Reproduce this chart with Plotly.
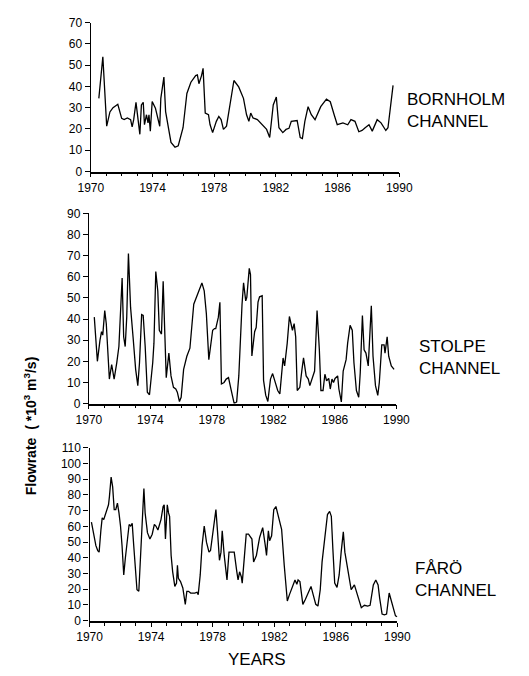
import plotly.graph_objects as go

# ---------------- data ----------------
bornholm_years = [1970.52, 1970.78, 1971.03, 1971.24, 1971.44, 1971.75, 1972.0, 1972.16, 1972.37, 1972.58,
                  1972.68, 1972.78, 1972.93, 1973.05, 1973.18, 1973.28, 1973.40, 1973.48, 1973.61, 1973.71,
                  1973.77, 1973.86, 1973.98, 1974.19, 1974.33, 1974.47, 1974.54, 1974.74, 1974.85, 1975.05,
                  1975.2, 1975.46, 1975.67, 1975.98, 1976.23, 1976.49, 1976.80, 1976.91, 1977.01, 1977.18,
                  1977.28, 1977.42, 1977.63, 1977.73, 1977.9, 1978.14, 1978.3, 1978.45, 1978.6, 1978.8,
                  1979.03, 1979.28, 1979.59, 1979.9, 1980.1, 1980.25, 1980.37, 1980.52, 1980.8, 1981.4,
                  1981.6, 1981.83, 1982.03, 1982.2, 1982.45, 1982.66, 1982.85, 1983.0, 1983.38, 1983.58,
                  1983.72, 1983.88, 1984.09, 1984.3, 1984.54, 1984.91, 1985.28, 1985.53, 1985.78, 1985.98,
                  1986.35, 1986.66, 1986.87, 1987.13, 1987.38, 1987.59, 1987.79, 1988.04, 1988.25, 1988.57,
                  1988.82, 1989.13, 1989.27, 1989.6]
bornholm_flow = [34.4, 54, 21.3, 28, 30, 31.6, 25, 24.4, 25.2, 24.4,
                 21, 24.4, 32.5, 24.4, 17.5, 31.3, 32.5, 22, 26.7, 22.9,
                 26.7, 19, 32.9, 29.8, 25.2, 21.3, 34.4, 44.4, 28.2, 19,
                 13.7, 11.4, 12.1, 20.6, 36.7, 42, 45.1, 45.4, 41.3, 45.1,
                 48.5, 27.5, 26.7, 22.1, 18.3, 23.6, 25.9, 24.4, 19.8, 21.3,
                 31.3, 42.8, 39.8, 34.4, 26.7, 23.6, 27.5, 25.2, 24.4, 19.8,
                 16, 31.3, 35, 20.6, 18.3, 19.8, 20.3, 23.6, 24, 16,
                 15.5, 23.6, 30.5, 26.7, 24.4, 30.5, 34, 32.8, 26.7, 22,
                 22.9, 22, 24.4, 23.6, 18.7, 19.3, 20.6, 22, 19, 24.4,
                 22.9, 19.3, 20.6, 40.5]

stolpe_years = [1970.35, 1970.55, 1970.72, 1970.82, 1970.9,
                1971.03, 1971.13, 1971.33, 1971.48, 1971.64, 1971.81, 1971.95,
                1972.16, 1972.26, 1972.36, 1972.46, 1972.57, 1972.71, 1972.87,
                1973.04, 1973.18, 1973.29, 1973.43, 1973.53, 1973.66, 1973.8, 1973.94,
                1974.15, 1974.23, 1974.35, 1974.48, 1974.58, 1974.72, 1974.83, 1974.93,
                1975.03, 1975.2, 1975.34, 1975.5, 1975.65, 1975.75, 1975.89,
                1976.0, 1976.16, 1976.37, 1976.47, 1976.57, 1976.82,
                1977.02, 1977.19, 1977.35, 1977.5, 1977.64, 1977.8, 1977.9,
                1978.05, 1978.17, 1978.25, 1978.42, 1978.52, 1978.62, 1978.79, 1978.93,
                1979.08, 1979.24, 1979.45, 1979.61, 1979.75, 1979.96,
                1980.06, 1980.2, 1980.27, 1980.43, 1980.51, 1980.6, 1980.7, 1980.78, 1980.88,
                1981.0, 1981.1, 1981.27, 1981.36, 1981.5, 1981.64, 1981.81, 1981.95,
                1982.11, 1982.28, 1982.42, 1982.53, 1982.63, 1982.73, 1982.9,
                1983.04, 1983.14, 1983.24, 1983.35, 1983.45, 1983.55, 1983.72, 1983.86, 1983.96,
                1984.13, 1984.27, 1984.37, 1984.58, 1984.68, 1984.84, 1984.99,
                1985.09, 1985.23, 1985.35, 1985.46, 1985.6, 1985.7, 1985.81, 1985.91,
                1986.01, 1986.18, 1986.26, 1986.42, 1986.54, 1986.73, 1986.83, 1986.99,
                1987.13, 1987.24, 1987.4, 1987.55, 1987.65, 1987.79, 1987.9,
                1988.02, 1988.17, 1988.27, 1988.37, 1988.48, 1988.64, 1988.79, 1988.89,
                1989.05, 1989.2, 1989.26, 1989.4, 1989.5, 1989.67, 1989.85]
stolpe_flow = [40.9, 20, 30, 34, 32.4,
               44, 37.8, 11.6, 18.5, 11.6, 19.3, 27,
               59.4, 31.6, 27, 40.9, 71, 45.5, 31.6,
               16.2, 8.5, 19.3, 42.1, 41.7, 27, 5.4, 4.2,
               19.3, 28.6, 62.5, 53.3, 34.7, 32.9, 57.9, 34.7,
               12.3, 23.9, 13.1, 7.7, 6.9, 5.4, 1,
               3, 16.2, 22.4, 24.7, 26.2, 47,
               50.5, 54, 57.1, 53.3, 42.5, 20.8, 25.5,
               34.7, 35.5, 35.5, 40.9, 47.9, 9.3, 10, 11.6,
               12.3, 6.9, 0, 0.8, 13.1, 47,
               57.1, 48.6, 50.2, 64, 61, 22.5, 30, 34, 36,
               48, 50.5, 51, 11, 4, 1, 11.6, 14.2,
               10, 6.2, 4.6, 16.2, 21.6, 17.8, 28.6,
               41.2, 38.6, 34.7, 37.8, 31.6, 6.2, 7.7, 16.2, 21.6,
               13.1, 11.6, 8.5, 13.1, 15.4, 44, 25.5,
               6.2, 6.2, 13.9, 10.8, 11.9, 6.9, 11.6, 10,
               11.9, 13.1, 6.9, 0.8, 15.4, 20.8, 28.6, 37,
               34.7, 19.3, 6.2, 3, 14.7, 41.7, 25.5,
               23.9, 17.8, 34.7, 46.3, 22.4, 8.5, 3.9, 10,
               27.8, 27.8, 23.9, 31.6, 22.4, 17.8, 16.2]

faro_years = [1970.12, 1970.27, 1970.41, 1970.53, 1970.62, 1970.74, 1970.82, 1970.92, 1970.99,
              1971.09, 1971.23, 1971.29, 1971.4, 1971.5, 1971.6, 1971.7, 1971.81, 1971.91,
              1972.01, 1972.11, 1972.22, 1972.32, 1972.46, 1972.57, 1972.67, 1972.77, 1972.87,
              1973.0, 1973.08, 1973.2, 1973.31, 1973.41, 1973.53, 1973.61, 1973.76, 1973.92,
              1974.07, 1974.21, 1974.31, 1974.44, 1974.52, 1974.64, 1974.78, 1974.85, 1974.93,
              1975.05, 1975.13, 1975.2, 1975.3, 1975.4, 1975.54, 1975.65, 1975.71, 1975.77, 1975.91,
              1976.06, 1976.22, 1976.32, 1976.43, 1976.57, 1976.84, 1976.98,
              1977.06, 1977.19, 1977.31, 1977.45, 1977.6, 1977.76, 1977.86,
              1978.01, 1978.21, 1978.32, 1978.44, 1978.54, 1978.62, 1978.75, 1978.93,
              1979.06, 1979.2, 1979.4, 1979.57, 1979.65, 1979.75, 1979.86, 1979.92,
              1980.06, 1980.18, 1980.33, 1980.47, 1980.55, 1980.66, 1980.84,
              1981.05, 1981.25, 1981.42, 1981.5, 1981.62, 1981.7, 1981.83, 1981.97,
              1982.11, 1982.28, 1982.48, 1982.65, 1982.85, 1982.99,
              1983.2, 1983.35, 1983.47, 1983.55, 1983.67, 1983.86,
              1984.02, 1984.18, 1984.39, 1984.53, 1984.7, 1984.84, 1984.99,
              1985.11, 1985.32, 1985.46, 1985.6, 1985.71, 1985.81, 1985.93,
              1986.08, 1986.22, 1986.35, 1986.49, 1986.59, 1986.76, 1986.9,
              1987.0, 1987.21, 1987.41, 1987.66, 1987.86,
              1988.07, 1988.23, 1988.44, 1988.6, 1988.75, 1988.85,
              1989.01, 1989.16, 1989.3, 1989.47, 1989.63, 1989.71, 1989.88, 1990.0]
faro_flow = [62.7, 55, 47.7, 44.6, 43.6, 58.1, 65.4, 64.3, 66.4,
             70.6, 73.7, 78.9, 91.3, 85.1, 70.6, 70.6, 74.7, 68.5,
             60.2, 47.7, 29.1, 39.4, 52.9, 61.2, 60.2, 61.9, 47.7,
             27, 19.7, 18.7, 39.4, 66.4, 84.1, 68.5, 56, 51.9,
             55, 61.2, 60.2, 57.7, 60.2, 64.3, 72.6, 73.7, 51.9,
             73.7, 68.5, 66.4, 41.5, 31.1, 21.8, 23.9, 35.3, 27, 24.9,
             20.8, 10.4, 18.7, 18.7, 17.6, 17.6, 18.1,
             16.6, 29.1, 47.7, 60.2, 49.8, 43.6, 44.6,
             56, 70.6, 56, 38.4, 43.6, 57.1, 41.5, 25.9,
             43.6, 43.6, 43.6, 31.1, 25.9, 31.1, 28, 23.9,
             39.4, 55, 55, 52.9, 51.9, 37.4, 41.5,
             52.9, 59.2, 47.7, 41.5, 57.1, 50.9, 54, 70.6,
             72.6, 65.4, 58.1, 35.3, 12.5, 16.6,
             22.8, 25.9, 23.2, 25.9, 24.9, 10.4,
             13.5, 17.6, 21.8, 16.6, 10.4, 9.3, 19.7,
             37.4, 54, 67.5, 69.5, 66.4, 45.7, 23.9,
             21.2, 29.1, 43.6, 56.5, 43.6, 33.2, 24.9,
             19.7, 22.8, 16.6, 8.3, 9.8,
             9.3, 9.8, 22.8, 25.9, 22.8, 14.5,
             4.2, 3.7, 4.2, 17.6, 11.4, 8.3, 3.1, 2.5]

channel_names = ["BORNHOLM<br>CHANNEL", "STOLPE<br>CHANNEL", "FÅRÖ<br>CHANNEL"]
y_max = [70, 90, 110]
x_ticks = [1970, 1974, 1978, 1982, 1986, 1990]

# ---------------- layout helpers (pixel geometry) ----------------
W, H = 529, 676
def px_x(p):
    return p / W
def px_y(p):
    return 1 - p / H

panels = [
    dict(x0=82, x1=407, ybot=168, ytop=16, lab_x=413, lab_y=106),
    dict(x0=80, x1=404, ybot=405, ytop=210.7, lab_x=426, lab_y=358),
    dict(x0=80.7, x1=405, ybot=626.7, ytop=450, lab_x=421, lab_y=585),
]
series = [(bornholm_years, bornholm_flow), (stolpe_years, stolpe_flow), (faro_years, faro_flow)]

fig = go.Figure()
tick_font = dict(family="Liberation Sans, Arial, sans-serif", size=12, color="black")
annotations = []
for i, (p, (xs, ys)) in enumerate(zip(panels, series)):
    n = "" if i == 0 else str(i + 1)
    fig.add_trace(go.Scatter(x=xs, y=ys, mode="lines",
                             line=dict(color="black", width=1.3),
                             xaxis="x" + n, yaxis="y" + n, showlegend=False))
    fig.layout["xaxis" + n] = dict(
        domain=[px_x(p["x0"]), px_x(p["x1"])], range=[1970, 1990],
        anchor="y" + n, tickvals=x_ticks, ticks="outside", ticklen=4, tickwidth=1.2,
        tickcolor="black", showline=True, linecolor="black", linewidth=1.6,
        showgrid=False, zeroline=False, tickfont=tick_font,
        minor=dict(dtick=1, tick0=1970, ticks="outside", ticklen=3, tickwidth=1, tickcolor="black",
                   showgrid=False))
    fig.layout["yaxis" + n] = dict(
        domain=[px_y(p["ybot"]), px_y(p["ytop"])], range=[0, y_max[i]],
        anchor="x" + n, dtick=10, ticks="outside", ticklen=5, tickwidth=1.2,
        tickcolor="black", showline=True, linecolor="black", linewidth=1.4,
        showgrid=False, zeroline=False, tickfont=tick_font)
    annotations.append(dict(text=channel_names[i], xref="paper", yref="paper",
                            x=px_x(p["lab_x"]), y=px_y(p["lab_y"]), xanchor="left", yanchor="middle",
                            align="left", showarrow=False,
                            font=dict(family="Liberation Sans, Arial, sans-serif", size=17, color="black")))

annotations.append(dict(text="<b>Flowrate  ( *10<sup>3</sup> m<sup>3</sup>/s)</b>", xref="paper", yref="paper",
                        x=px_x(18), y=px_y(428), xanchor="center", yanchor="middle", textangle=-90,
                        showarrow=False,
                        font=dict(family="Liberation Sans, Arial, sans-serif", size=14, color="black")))
annotations.append(dict(text="YEARS", xref="paper", yref="paper",
                        x=px_x(257), y=px_y(666), xanchor="center", yanchor="middle",
                        showarrow=False,
                        font=dict(family="Liberation Sans, Arial, sans-serif", size=17, color="black")))

fig.update_layout(width=W, height=H, margin=dict(l=0, r=0, t=0, b=0),
                  paper_bgcolor="white", plot_bgcolor="white",
                  annotations=annotations, showlegend=False)

fig.write_html("out.html")
